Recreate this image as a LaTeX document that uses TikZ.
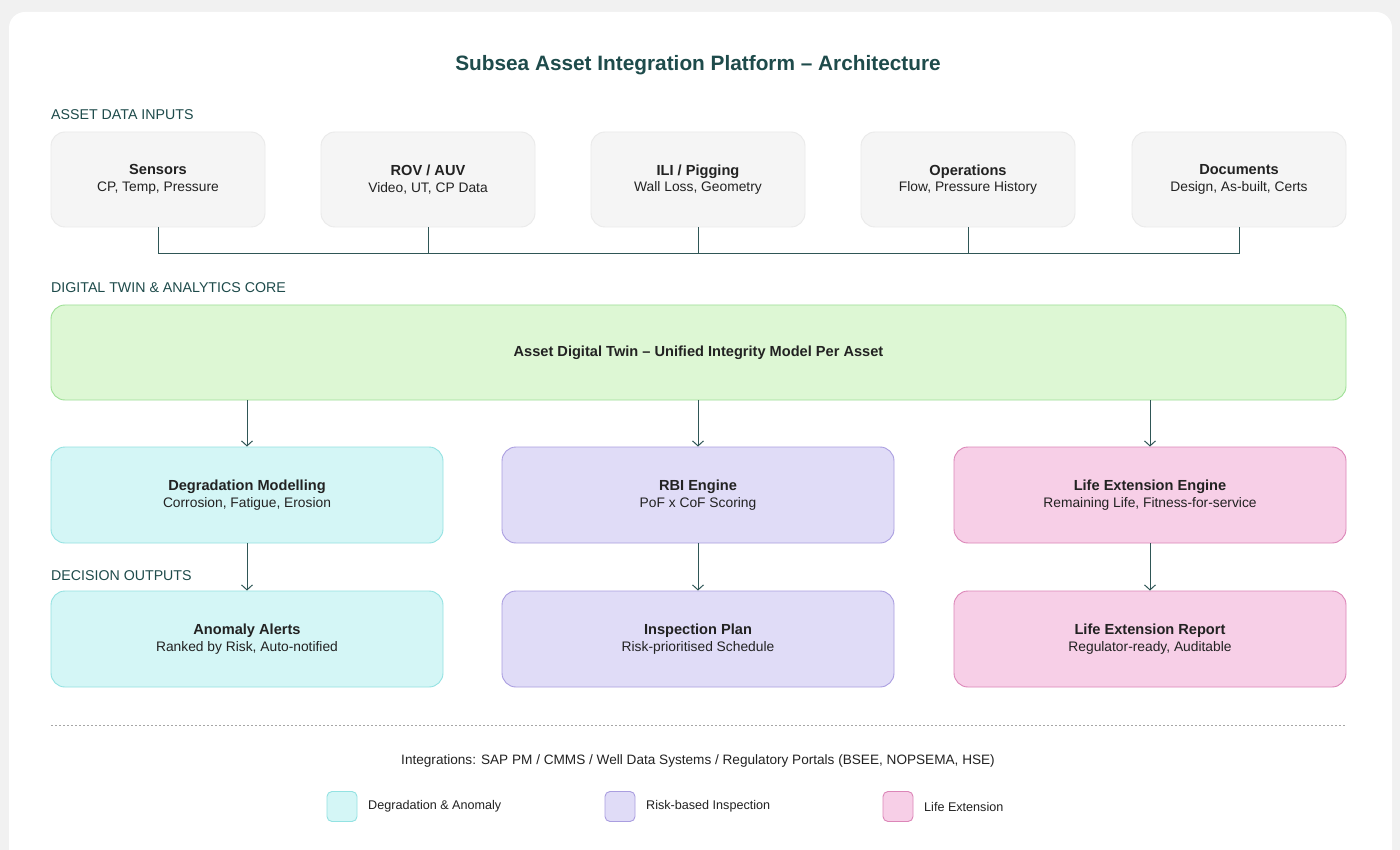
\documentclass[tikz,border=0pt]{standalone}
\usepackage{fontspec}
\setmainfont{Liberation Sans}
\usetikzlibrary{arrows.meta}
\definecolor{pagegray}{HTML}{F1F1F1}
\definecolor{ink}{HTML}{1E4B4B}
\definecolor{wire}{HTML}{2F5656}
\definecolor{txt}{HTML}{222222}
\definecolor{infill}{HTML}{F5F5F5}
\definecolor{inline}{HTML}{EAEAEA}
\definecolor{twinfill}{HTML}{DDF7D4}
\definecolor{twinline}{HTML}{9EE096}
\definecolor{degfill}{HTML}{D4F6F6}
\definecolor{degline}{HTML}{93E2E2}
\definecolor{rbifill}{HTML}{E0DCF7}
\definecolor{rbiline}{HTML}{AA9EE0}
\definecolor{lifefill}{HTML}{F7CFE7}
\definecolor{lifeline}{HTML}{DC86B8}
\newcommand{\twoline}[2]{{\bfseries\fontsize{14.6}{17}\selectfont #1}\\#2}
\tikzset{
  section/.style={anchor=west, text=ink, font=\fontsize{14.2}{16}\selectfont, inner sep=0pt},
  card/.style={rounded corners=14pt, line width=0.9pt, align=center, text=txt,
    font=\fontsize{13.8}{16.5}\selectfont, inner sep=0pt},
  inbox/.style={card, draw=inline, fill=infill, minimum width=214pt, minimum height=95pt},
  wide/.style={card, minimum width=392pt, minimum height=96pt},
  degbox/.style={wide, draw=degline, fill=degfill},
  rbibox/.style={wide, draw=rbiline, fill=rbifill},
  lifebox/.style={wide, draw=lifeline, fill=lifefill},
  swatch/.style={rounded corners=5pt, line width=0.9pt, minimum size=30pt, inner sep=0pt},
  legtext/.style={anchor=west, text=txt, font=\fontsize{12.6}{14}\selectfont, inner sep=0pt},
  link/.style={draw=wire, line width=1pt},
  flow/.style={link, -{Straight Barb[length=5pt,width=11pt,line width=1pt]}}
}
\begin{document}
\begin{tikzpicture}[x=1pt, y=-1pt]
	\useasboundingbox (0,0) rectangle (1400,850);
	% Page and card
	\fill[pagegray] (0,0) rectangle (1400,850);
	\fill[white, rounded corners=16pt] (9,12) rectangle (1392,870);

	\node[text=ink, font=\bfseries\fontsize{20.8}{24}\selectfont] (title) at (698,65) {Subsea Asset Integration Platform -- Architecture};

	% Inputs
	\node[section] (lblin) at (51,115) {ASSET DATA INPUTS};
	\node[inbox] (in1) at (158,179.5)  {\twoline{Sensors}{CP, Temp, Pressure}};
	\node[inbox] (in2) at (428,179.5)  {\twoline{ROV / AUV}{Video, UT, CP Data}};
	\node[inbox] (in3) at (698,179.5)  {\twoline{ILI / Pigging}{Wall Loss, Geometry}};
	\node[inbox] (in4) at (968,179.5)  {\twoline{Operations}{Flow, Pressure History}};
	\node[inbox] (in5) at (1239,179.5) {\twoline{Documents}{Design, As-built, Certs}};

	\coordinate (bus1) at (158,254);	\coordinate (bus2) at (428,254);	\coordinate (bus3) at (698,254);
	\coordinate (bus4) at (968,254);	\coordinate (bus5) at (1239,254);

	% Bus
	\draw[link] (in1.south) -- (bus1);
	\draw[link] (in2.south) -- (bus2);
	\draw[link] (in3.south) -- (bus3);
	\draw[link] (in4.south) -- (bus4);
	\draw[link] (in5.south) -- (bus5);
	\draw[link] (bus1) -- (bus5);

	% Core
	\node[section] (lblcore) at (51,288) {DIGITAL TWIN \& ANALYTICS CORE};
	\node[card, draw=twinline, fill=twinfill, minimum width=1295pt, minimum height=95pt] (twin) at (698.5,352.5)
		{{\bfseries\fontsize{14.6}{17}\selectfont Asset Digital Twin -- Unified Integrity Model Per Asset}};

	\node[degbox]  (deg)  at (247,495)  {\twoline{Degradation Modelling}{Corrosion, Fatigue, Erosion}};
	\node[rbibox]  (rbi)  at (698,495)  {\twoline{RBI Engine}{PoF x CoF Scoring}};
	\node[lifebox] (life) at (1150,495) {\twoline{Life Extension Engine}{Remaining Life, Fitness-for-service}};

	% Outputs
	\node[section] (lblout) at (51,576) {DECISION OUTPUTS};
	\node[degbox]  (alert)  at (247,639)  {\twoline{Anomaly Alerts}{Ranked by Risk, Auto-notified}};
	\node[rbibox]  (plan)   at (698,639)  {\twoline{Inspection Plan}{Risk-prioritised Schedule}};
	\node[lifebox] (report) at (1150,639) {\twoline{Life Extension Report}{Regulator-ready, Auditable}};

	% Arrows
	\draw[flow] (twin.south -| deg.north) -- (deg.north);
	\draw[flow] (twin.south -| rbi.north) -- (rbi.north);
	\draw[flow] (twin.south -| life.north) -- (life.north);
	\draw[flow] (deg.south) -- (alert.north);
	\draw[flow] (rbi.south) -- (plan.north);
	\draw[flow] (life.south) -- (report.north);

	% Footer
	\coordinate (dashl) at (51,725);	\coordinate (dashr) at (1346,725);
	\draw[gray!70, line width=0.7pt, dash pattern=on 2pt off 2pt] (dashl) -- (dashr);
	\node[text=txt, font=\fontsize{13.6}{16}\selectfont] (integ) at (698,761)
		{Integrations: SAP PM / CMMS / Well Data Systems / Regulatory Portals (BSEE, NOPSEMA, HSE)};

	\node[swatch, draw=degline, fill=degfill]   (sw1) at (342,806.5) {};
	\node[legtext] (lg1) at (368,806.5) {Degradation \& Anomaly};
	\node[swatch, draw=rbiline, fill=rbifill]   (sw2) at (620,806.5) {};
	\node[legtext] (lg2) at (646,806.5) {Risk-based Inspection};
	\node[swatch, draw=lifeline, fill=lifefill] (sw3) at (898,806.5) {};
	\node[legtext] (lg3) at (924,806.5) {Life Extension};
\end{tikzpicture}
\end{document}
